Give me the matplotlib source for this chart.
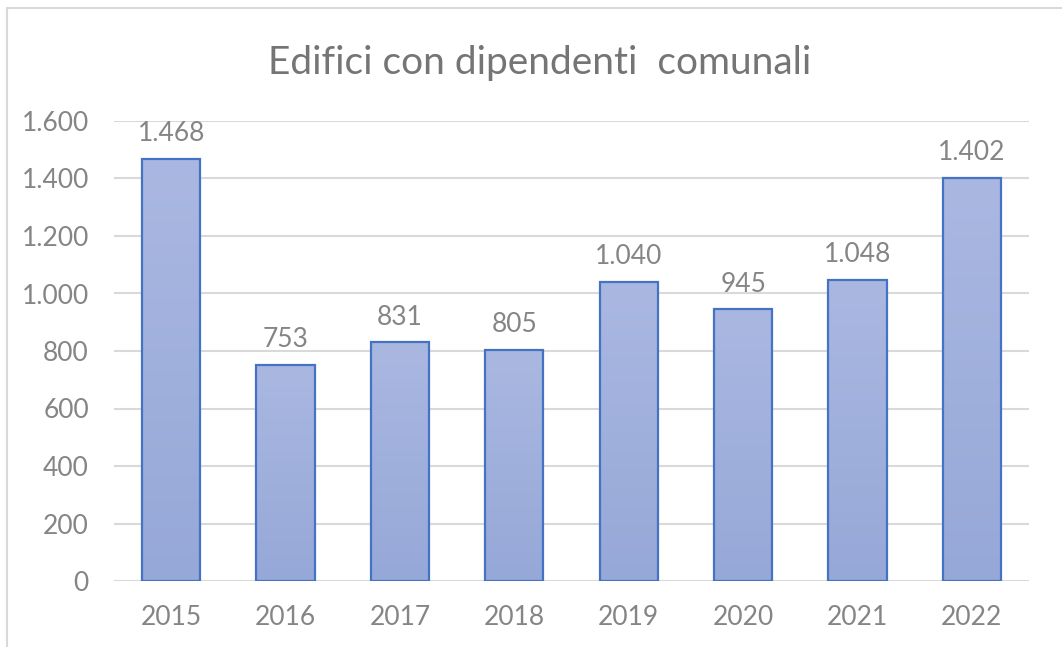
import matplotlib
matplotlib.use("Agg")
import matplotlib.pyplot as plt
import numpy as np
from matplotlib.patches import Rectangle
from matplotlib.colors import LinearSegmentedColormap

years = ["2015", "2016", "2017", "2018", "2019", "2020", "2021", "2022"]
values = [1468, 753, 831, 805, 1040, 945, 1048, 1402]
value_labels = ["1.468", "753", "831", "805", "1.040", "945", "1.048", "1.402"]
yticks = [0, 200, 400, 600, 800, 1000, 1200, 1400, 1600]
ytick_labels = ["0", "200", "400", "600", "800", "1.000", "1.200", "1.400", "1.600"]
title = "Edifici con dipendenti  comunali"

plt.rcParams['font.family'] = ['Lato', 'DejaVu Sans']

W, H = 1062, 647
fig = plt.figure(figsize=(W / 100, H / 100), dpi=100)
fig.patch.set_facecolor("white")

# outer chart frame
fig.add_artist(Rectangle((7 / W, -0.05), 1.1, 1 - 8 / H + 0.05, transform=fig.transFigure,
                         fill=False, edgecolor="#d9d9d9", linewidth=1.5))

ax = fig.add_axes([114 / W, 1 - 581 / H, (1029 - 114) / W, (581 - 121) / H])
x = np.arange(len(years))
bars = ax.bar(x, values, width=0.51, color="#a2b2dd", edgecolor="#4472c4", linewidth=1.6, zorder=3)

cmap = LinearSegmentedColormap.from_list("g", ["#96a8d8", "#aab8e1"])
grad = np.linspace(0, 1, 256).reshape(-1, 1)
for b in bars:
    bx, by = b.get_x(), b.get_y()
    bw, bh = b.get_width(), b.get_height()
    im = ax.imshow(grad, extent=[bx, bx + bw, by, by + bh], origin="lower", aspect="auto",
                   cmap=cmap, zorder=3.5)
    im.set_clip_path(b)
    b.set_facecolor("none")
    b.set_zorder(4)

for xi, v, lab in zip(x, values, value_labels):
    ax.annotate(lab, (xi, v), xytext=(0, 9), textcoords="offset points",
                ha="center", va="bottom", fontsize=19, color="#858585")

ax.set_xlim(-0.5, len(years) - 0.5)
ax.set_ylim(0, 1600)
ax.set_yticks(yticks)
ax.set_yticklabels(ytick_labels)
ax.set_xticks(x)
ax.set_xticklabels(years)
ax.tick_params(axis="both", length=0, labelsize=19, colors="#858585")
ax.tick_params(axis="y", pad=18)
ax.tick_params(axis="x", pad=17)
ax.grid(axis="y", color="#d9d9d9", linewidth=1.5, zorder=0)
for s in ax.spines.values():
    s.set_visible(False)

fig.text(540 / W, 1 - 63 / H, title, ha="center", va="center", fontsize=28, color="#757575")

fig.savefig("out.png", dpi=100, facecolor="white")
